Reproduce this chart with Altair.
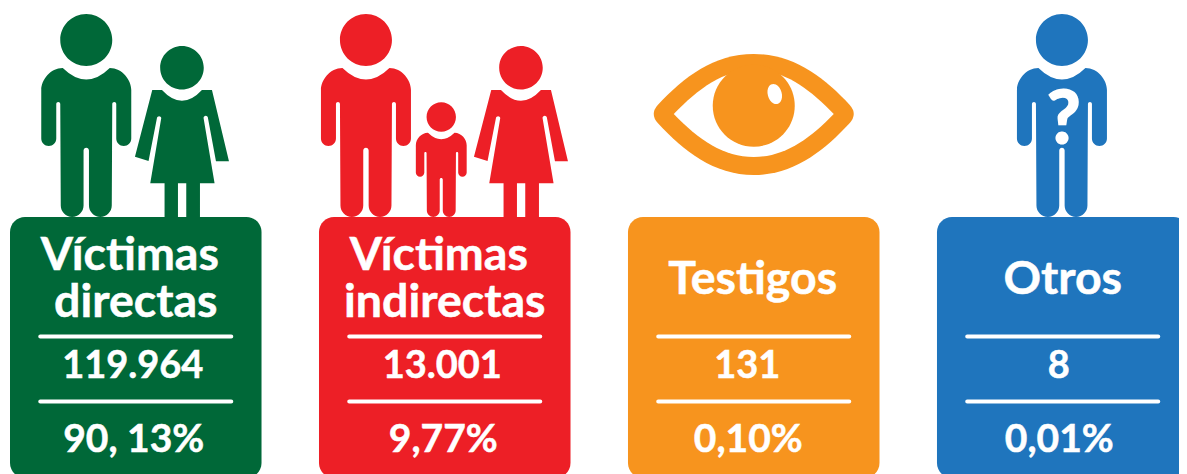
import math
import altair as alt
import pandas as pd

cards = ["Víctimas directas", "Víctimas indirectas", "Testigos", "Otros"]
card_colors = ["#006838", "#ED1F26", "#F7941E", "#1F75BD"]
counts = ["119.964", "13.001", "131", "8"]
shares = ["90, 13%", "9,77%", "0,10%", "0,01%"]
count_dx = [-3, -2.5, -6.5, -4]
share_dx = [-2, -1.5, -5.5, -3.5]
title_rows = [
    (0, "Víctimas", 270, -6),
    (0, "directas", 317, 0),
    (1, "Víctimas", 270, -6),
    (1, "indirectas", 317, 0),
    (2, "Testigos", 294, -1),
    (3, "Otros", 294, 0),
]
FONT = "Lato"


def n(v):
    return f"{v:.2f}"


def circle(cx, cy, r):
    return (f"M{n(cx-r)},{n(cy)} A{n(r)},{n(r)} 0 1 1 {n(cx+r)},{n(cy)} "
            f"A{n(r)},{n(r)} 0 1 1 {n(cx-r)},{n(cy)} Z ")


def man(ax, s=1.0):
    """Standing figure with its feet on the card top (y = 0)."""
    X = lambda v: n(ax + v * s)
    Y = lambda v: n((v - 217) * s)
    R = lambda v: n(v * s)
    return (
        circle(ax, (40 - 217) * s, 26 * s)
        + f"M{X(-23.5)},{Y(68)} Q{X(0)},{Y(91)} {X(23.5)},{Y(68)} "
        + f"C{X(36)},{Y(68)} {X(45)},{Y(80)} {X(45)},{Y(90)} L{X(45)},{Y(138.5)} "
        + f"A{R(7.5)},{R(7.5)} 0 0 1 {X(30)},{Y(138.5)} L{X(30)},{Y(104)} "
        + f"A{R(2)},{R(2)} 0 0 0 {X(26)},{Y(104)} L{X(25.5)},{Y(205.5)} "
        + f"A{R(11.4)},{R(11.4)} 0 0 1 {X(2.7)},{Y(205.5)} L{X(2.7)},{Y(150.5)} "
        + f"A{R(2.7)},{R(2.7)} 0 0 0 {X(-2.7)},{Y(150.5)} L{X(-2.7)},{Y(205.5)} "
        + f"A{R(11.4)},{R(11.4)} 0 0 1 {X(-25.5)},{Y(205.5)} L{X(-26)},{Y(104)} "
        + f"A{R(2)},{R(2)} 0 0 0 {X(-30)},{Y(104)} L{X(-30)},{Y(138.5)} "
        + f"A{R(7.5)},{R(7.5)} 0 0 1 {X(-45)},{Y(138.5)} L{X(-45)},{Y(90)} "
        + f"C{X(-45)},{Y(80)} {X(-36)},{Y(68)} {X(-23.5)},{Y(68)} Z "
    )


def woman(ax):
    X = lambda v: n(ax + v)
    Y = lambda v: n(v - 217)
    return (
        circle(ax, 67.7 - 217, 21.8)
        + f"M{X(-20)},{Y(90)} Q{X(0)},{Y(111.5)} {X(20)},{Y(90)} L{X(30)},{Y(90)} "
        + f"L{X(47)},{Y(161.3)} L{X(34)},{Y(161.3)} L{X(26)},{Y(118)} "
        + f"A2.2,2.2 0 0 0 {X(21.6)},{Y(118)} L{X(32.6)},{Y(183.3)} L{X(18)},{Y(183.3)} "
        + f"L{X(18)},{Y(217)} L{X(4.3)},{Y(217)} L{X(4.3)},{Y(183.3)} L{X(-4)},{Y(183.3)} "
        + f"L{X(-4)},{Y(217)} L{X(-17.4)},{Y(217)} L{X(-17.4)},{Y(183.3)} L{X(-31.7)},{Y(183.3)} "
        + f"L{X(-20.7)},{Y(118)} A2.2,2.2 0 0 0 {X(-25)},{Y(118)} L{X(-33.4)},{Y(161)} "
        + f"L{X(-47)},{Y(156.7)} L{X(-29.7)},{Y(90)} Z "
    )


eye_outer = ("M-96,-112 C-70,-140 -40,-163 0,-163 C40,-163 70,-140 96,-112 "
             "Q104,-103 96,-94 C70,-66 40,-42 0,-42 C-40,-42 -70,-66 -96,-94 "
             "Q-104,-103 -96,-112 Z")
eye_inner = ("M-80,-103 C-55,-129 -30,-147 0,-147 C30,-147 55,-129 80,-103 "
             "C55,-77 30,-60 0,-60 C-30,-60 -55,-77 -80,-103 Z")
eye_iris = circle(0, -111.3, 41)


def ellipse(cx, cy, rx, ry, deg):
    c, s = math.cos(math.radians(deg)), math.sin(math.radians(deg))
    return (f"M{n(cx - rx*c)},{n(cy - rx*s)} "
            f"A{rx},{ry} {deg} 1 1 {n(cx + rx*c)},{n(cy + rx*s)} "
            f"A{rx},{ry} {deg} 1 1 {n(cx - rx*c)},{n(cy - rx*s)} Z")


eye_glint = ellipse(21, -123, 7, 10, -15)

icons = [
    (0, man(-49.5) + woman(46.2), card_colors[0]),
    (1, man(-78.8) + man(-3.5, 0.565) + woman(76.2), card_colors[1]),
    (2, eye_outer, card_colors[2]),
    (2, eye_inner, "#FFFFFF"),
    (2, eye_iris, card_colors[2]),
    (2, eye_glint, "#FFFFFF"),
    (3, man(-0.8), card_colors[3]),
]

x = alt.X(
    "card:N",
    axis=None,
    scale=alt.Scale(domain=cards, range=[2, 1180.5], paddingInner=0.186, paddingOuter=0, round=False),
)
yscale = alt.Scale(domain=[8, 474], range=[0, 466], zero=False, nice=False)


def Y(field):
    return alt.Y(field, axis=None, scale=yscale)


card_df = pd.DataFrame({"card": cards, "color": card_colors, "top": [217] * 4, "bottom": [478] * 4})
bars = alt.Chart(card_df).mark_bar(cornerRadius=15).encode(
    x=x, y=Y("top:Q"), y2="bottom:Q", color=alt.Color("color:N", scale=None, legend=None)
)

icon_df = pd.DataFrame(
    [{"card": cards[i], "path": p, "color": c, "base": 217, "order": k} for k, (i, p, c) in enumerate(icons)]
)
icon_layers = [
    alt.Chart(icon_df[icon_df["order"] == k]).mark_point(filled=True, opacity=1, size=4, strokeWidth=0).encode(
        x=x,
        y=Y("base:Q"),
        shape=alt.Shape("path:N", scale=None, legend=None),
        color=alt.Color("color:N", scale=None, legend=None),
    )
    for k in range(len(icons))
]

rule_df = pd.DataFrame(
    [{"card": c, "y1": y, "y2": y + 4} for c in cards for y in (334.5, 399.5)]
)
rules = alt.Chart(rule_df).mark_bar(width=195, cornerRadius=2, color="#FFFFFF").encode(
    x=x, y=Y("y1:Q"), y2="y2:Q"
)


def text_layer(rows, size, dx=0, stroke=0.5):
    df = pd.DataFrame(rows, columns=["card", "label", "base"])
    return alt.Chart(df).mark_text(
        font=FONT, fontWeight="bold", fontSize=size, color="#FFFFFF",
        stroke="#FFFFFF", strokeWidth=stroke,
        align="center", baseline="alphabetic", dx=dx,
    ).encode(x=x, y=Y("base:Q"), text="label:N")


title_layers = [
    text_layer([(cards[i], t, b)], 46.5, dx) for i, t, b, dx in title_rows
]
count_layers = [text_layer([(c, v, 378)], 38, d) for c, v, d in zip(cards, counts, count_dx)]
share_layers = [text_layer([(c, v, 452)], 39, d) for c, v, d in zip(cards, shares, share_dx)]
qmark = text_layer([(cards[3], "?", 143)], 73, 1, 2)

chart = alt.layer(
    bars, *icon_layers, qmark, rules, *title_layers, *count_layers, *share_layers
).properties(
    width=1171,
    height=466,
    padding=0,
    autosize=alt.AutoSizeParams(type="none", contains="padding"),
    background="#FFFFFF",
).configure_view(stroke=None)

chart.save("out.html", embed_options={"renderer": "svg", "actions": False})
